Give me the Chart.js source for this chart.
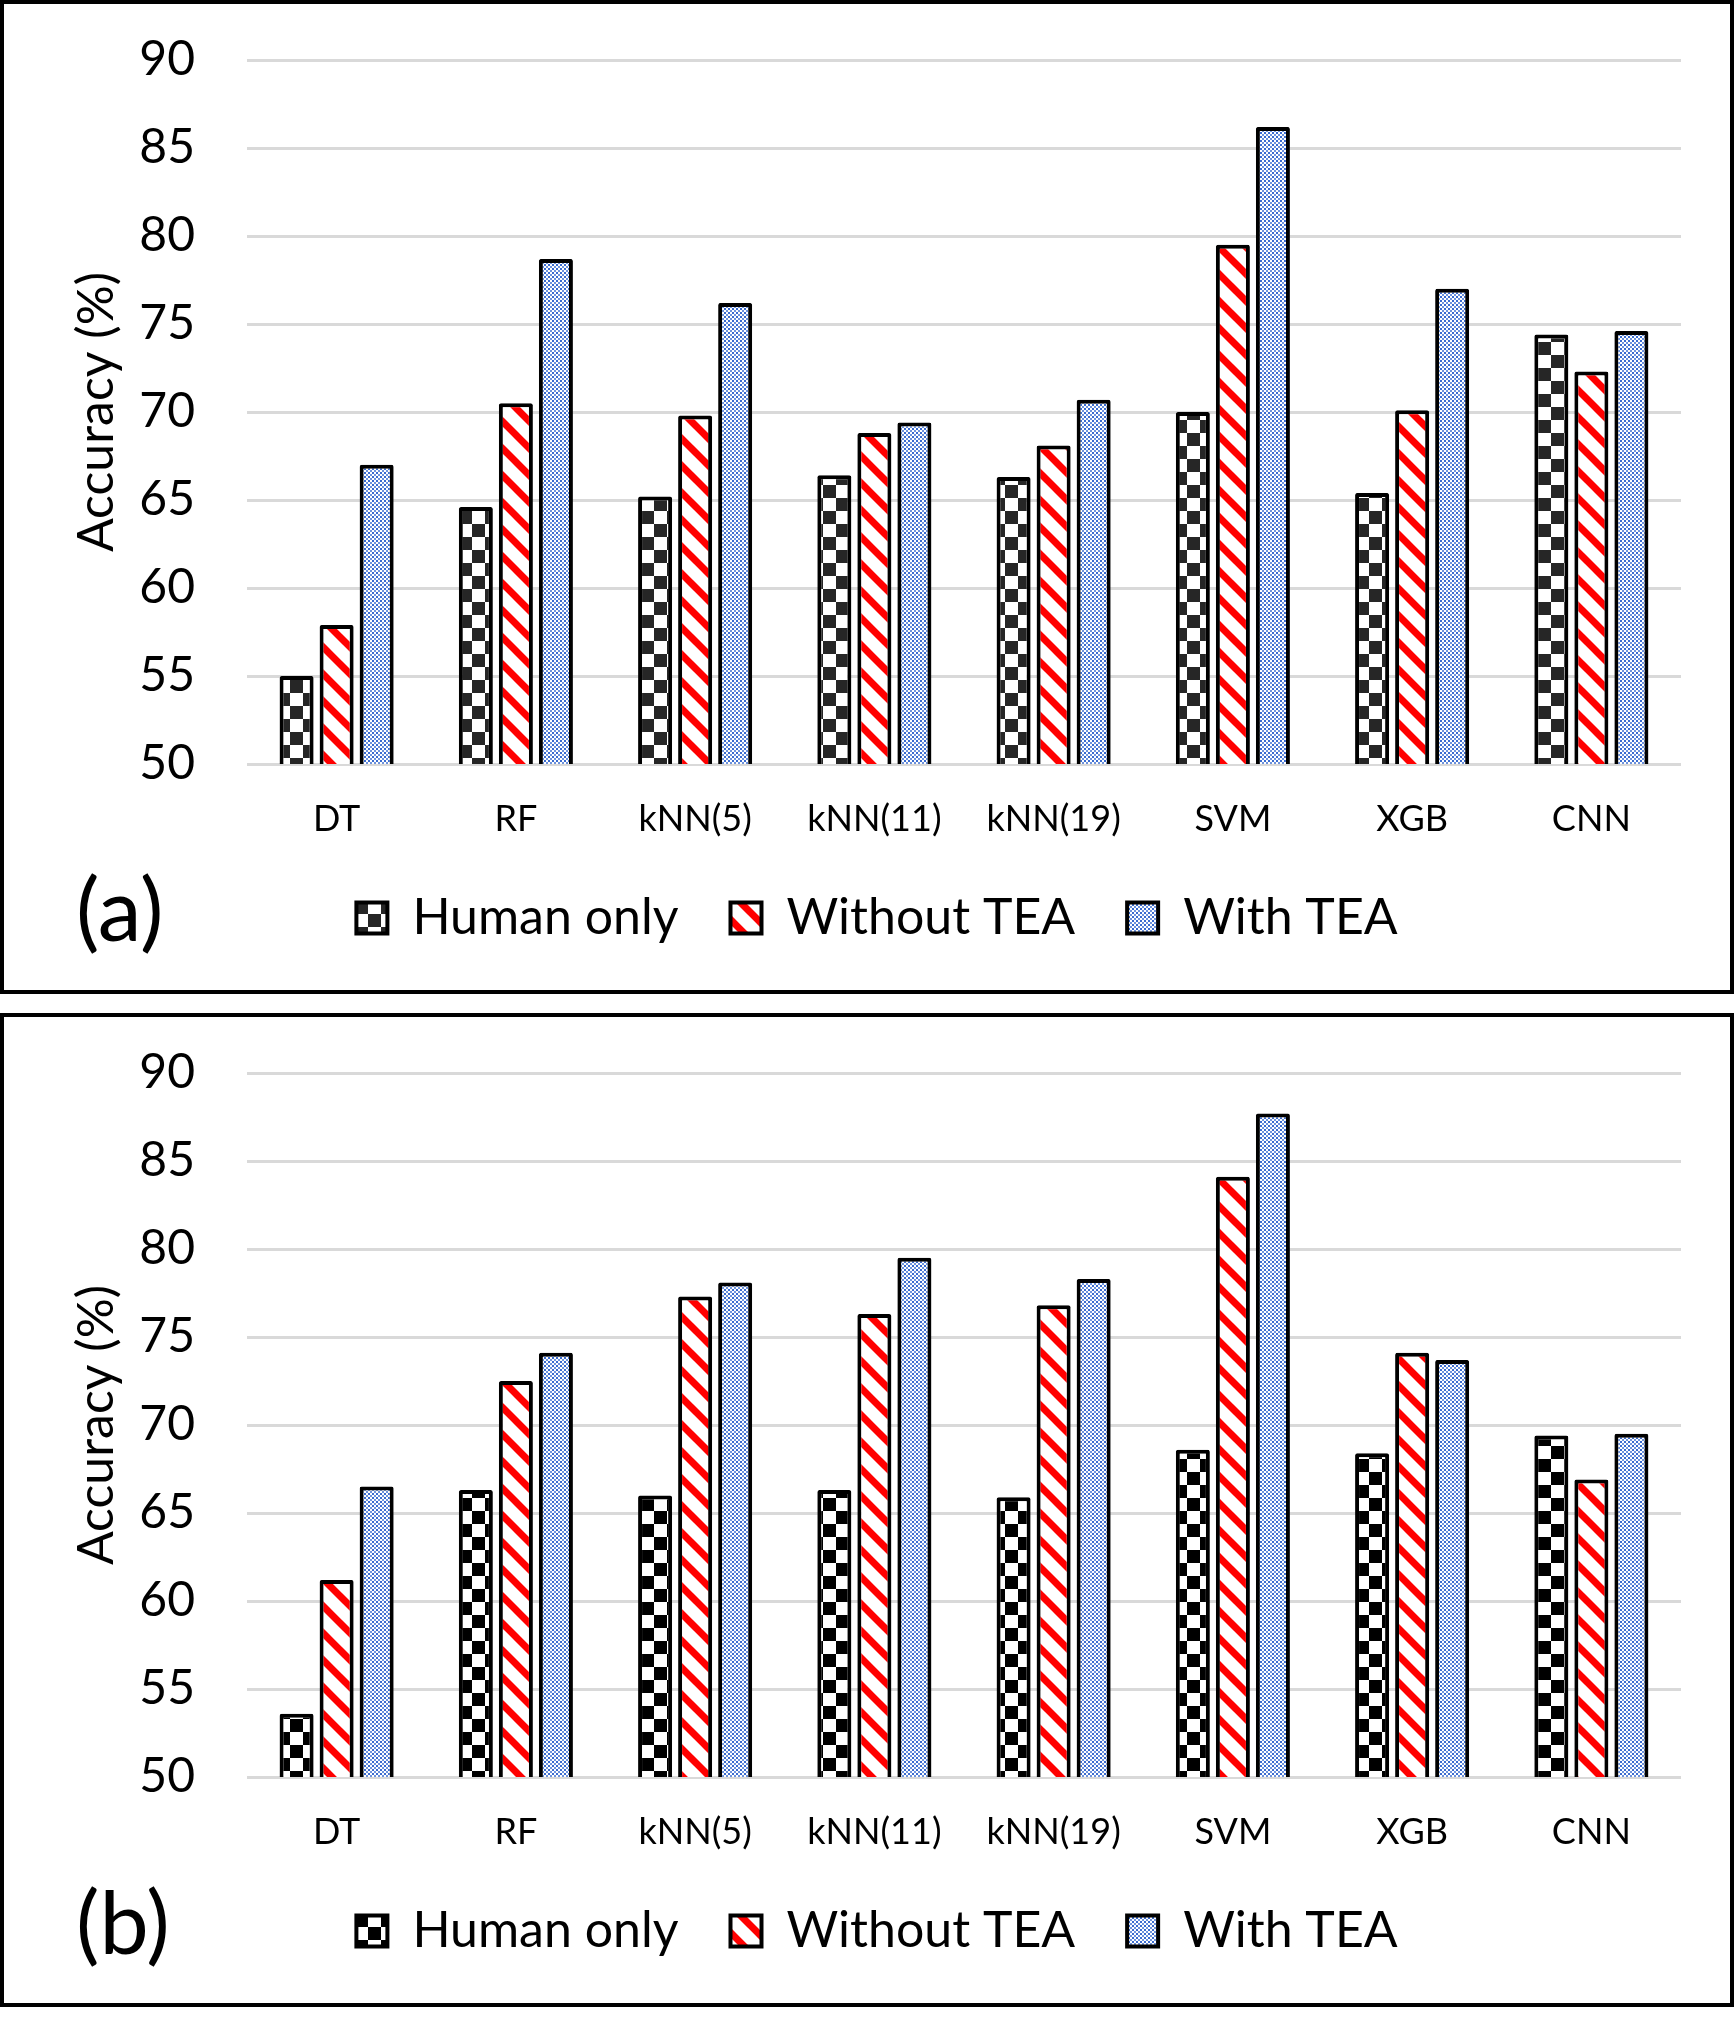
<!DOCTYPE html>
<html>
<head>
<meta charset="utf-8">
<script src="https://cdn.jsdelivr.net/npm/chart.js@4.4.0/dist/chart.umd.min.js"></script>
<style>
    html, body { margin: 0; padding: 0; background: #fff; }
    .panel {
        position: absolute; left: 0; width: 1734px; height: 994px;
        border: 4px solid #000; box-sizing: border-box; background: #fff;
    }
    .panel canvas { position: absolute; left: 0; top: 0; }
    .tag {
        position: absolute; left: 72px; top: 859px;
        font-family: Lato, sans-serif; font-size: 88px; line-height: 1; color: #000;
    }
</style>
</head>
<body>
<div class="panel" style="top:0px">
    <canvas id="chartA" width="1726" height="986"></canvas>
    <div class="tag">(a)</div>
</div>
<div class="panel" style="top:1013px">
    <canvas id="chartB" width="1726" height="986"></canvas>
    <div class="tag">(b)</div>
</div>
<script>
// data
const categories = ['DT', 'RF', 'kNN(5)', 'kNN(11)', 'kNN(19)', 'SVM', 'XGB', 'CNN'];
const seriesNames = ['Human only', 'Without TEA', 'With TEA'];

// (a)
const humanA   = [55.0, 64.6, 65.2, 66.4, 66.3, 70.0, 65.4, 74.4];
const withoutA = [57.9, 70.5, 69.8, 68.8, 68.1, 79.5, 70.1, 72.3];
const withA    = [67.0, 78.7, 76.2, 69.4, 70.7, 86.2, 77.0, 74.6];

// (b)
const humanB   = [53.6, 66.3, 66.0, 66.3, 65.9, 68.6, 68.4, 69.4];
const withoutB = [61.2, 72.5, 77.3, 76.3, 76.8, 84.1, 74.1, 66.9];
const withB    = [66.5, 74.1, 78.1, 79.5, 78.3, 87.7, 73.7, 69.5];

const yMin = 50, yMax = 90, yStep = 5;

// ---------- fill patterns ----------
function tile(size, draw) {
    const c = document.createElement('canvas');
    c.width = size; c.height = size;
    const g = c.getContext('2d');
    draw(g, size);
    return g.createPattern(c, 'repeat');
}

const checker = (color) => tile(26, (g, s) => {
    g.fillStyle = '#fff';
    g.fillRect(0, 0, s, s);
    g.fillStyle = color;
    g.fillRect(0, 0, s / 2, s / 2);
    g.fillRect(s / 2, s / 2, s / 2, s / 2);
});

const stripes = () => tile(27, (g, s) => {
    g.fillStyle = '#fff';
    g.fillRect(0, 0, s, s);
    g.strokeStyle = '#ff0000';
    g.lineWidth = 7;
    for (let k = -1; k <= 1; k++) {
        g.beginPath();
        g.moveTo(-6, -6 + k * s);
        g.lineTo(s + 6, s + 6 + k * s);
        g.stroke();
    }
});

const dots = () => tile(4, (g, s) => {
    g.fillStyle = '#fff';
    g.fillRect(0, 0, s, s);
    g.fillStyle = '#3a6bd0';
    g.fillRect(0, 0, 2, 2);
    g.fillStyle = '#6d92dc';
    g.fillRect(2, 2, 2, 2);
});

const font = 'Lato';
const padLeft = 69;

function makeChart(id, human, without, withTea, checkColor) {
    const fills = [checker(checkColor), stripes(), dots()];
    const values = [human, without, withTea];
    return new Chart(document.getElementById(id), {
        type: 'bar',
        data: {
            labels: categories,
            datasets: seriesNames.map((name, i) => ({
                label: name,
                data: values[i],
                backgroundColor: fills[i],
                borderColor: '#000',
                borderWidth: 4,
                borderRadius: 2,
                barPercentage: 0.85,
                categoryPercentage: 0.67
            }))
        },
        options: {
            responsive: false,
            animation: false,
            layout: { padding: { top: 56, right: 49, left: padLeft, bottom: 37 } },
            plugins: {
                tooltip: { enabled: false },
                legend: {
                    position: 'bottom',
                    labels: {
                        boxWidth: 31,
                        boxHeight: 31,
                        padding: 52,
                        color: '#000',
                        font: { family: font, size: 50 }
                    }
                }
            },
            scales: {
                x: {
                    grid: { display: false },
                    border: { display: false },
                    ticks: { color: '#000', padding: 26, font: { family: font, size: 36 } },
                    afterFit: s => { s.height = 77; }
                },
                y: {
                    min: yMin,
                    max: yMax,
                    ticks: { stepSize: yStep, color: '#000', padding: 52, font: { family: font, size: 48 } },
                    grid: { color: '#d9d9d9', lineWidth: 3, drawTicks: false },
                    border: { display: false },
                    title: {
                        display: true,
                        text: 'Accuracy (%)',
                        color: '#000',
                        padding: { top: 4, bottom: 0 },
                        font: { family: font, size: 50, lineHeight: 0.8 }
                    },
                    afterFit: s => {
                        s.width = 243 - padLeft;
                        s.paddingTop = 20;
                        s.paddingBottom = 20;
                    }
                }
            }
        }
    });
}

makeChart('chartA', humanA, withoutA, withA, '#262626');
makeChart('chartB', humanB, withoutB, withB, '#000000');
</script>
</body>
</html>
